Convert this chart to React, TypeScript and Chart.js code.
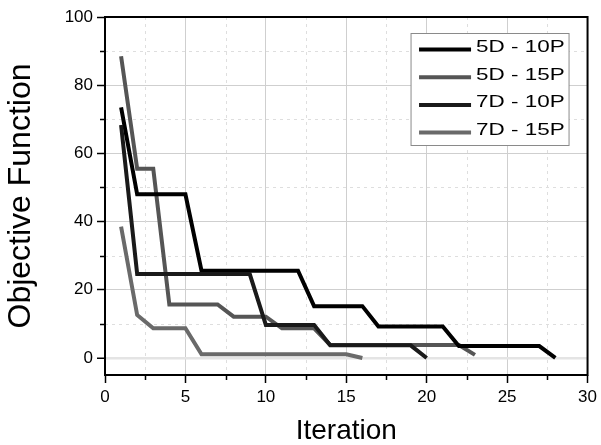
import React, { useEffect, useRef } from 'react';
import { Chart, registerables } from 'chart.js';

Chart.register(...registerables);

// ---- data ----
const seriesLabels = ['5D - 10P', '5D - 15P', '7D - 10P', '7D - 15P'];
const s5D10P = [73.5, 48, 48, 48, 48, 25.6, 25.6, 25.6, 25.6, 25.6, 25.6, 25.6, 15.2, 15.2, 15.2, 15.2, 9.2, 9.2, 9.2, 9.2, 9.2, 3.5, 3.5, 3.5, 3.5, 3.5, 3.5, 0];
const s5D15P = [88.5, 55.5, 55.5, 15.7, 15.7, 15.7, 15.7, 12.1, 12.1, 12.1, 8.7, 8.7, 8.7, 3.8, 3.8, 3.8, 3.8, 3.8, 3.8, 3.8, 3.8, 3.8, 0.9];
const s7D10P = [68.3, 24.6, 24.6, 24.6, 24.6, 24.6, 24.6, 24.6, 24.6, 9.7, 9.7, 9.7, 9.7, 3.7, 3.7, 3.7, 3.7, 3.7, 3.7, 0];
const s7D15P = [38.5, 12.6, 8.7, 8.7, 8.7, 1.1, 1.1, 1.1, 1.1, 1.1, 1.1, 1.1, 1.1, 1.1, 1.1, 0];
const seriesValues = [s5D10P, s5D15P, s7D10P, s7D15P];
const seriesColors = ['#000000', '#555555', '#1a1a1a', '#6a6a6a'];
const seriesOrder = [1, 3, 0, 4];

const xTicks = [0, 5, 10, 15, 20, 25, 30];
const yTicks = [0, 20, 40, 60, 80, 100];
const xMinorTicks = [2.5, 7.5, 12.5, 17.5, 22.5, 27.5];
const yMinorTicks = [10, 30, 50, 70, 90];
const xTitle = 'Iteration';
const yTitle = 'Objective Function';

const FONT = '"Liberation Sans", Arial, sans-serif';

const decorPlugin = {
  id: 'decor',
  beforeDatasetsDraw(chart: any) {
    const { ctx, chartArea: a, scales } = chart;
    const x = scales.x;
    const y = scales.y;
    ctx.save();
    ctx.strokeStyle = '#dedede';
    ctx.lineWidth = 1;
    ctx.setLineDash([3, 4]);
    ctx.beginPath();
    for (const v of xMinorTicks) {
      const px = Math.round(x.getPixelForValue(v)) + 0.5;
      ctx.moveTo(px, a.top);
      ctx.lineTo(px, a.bottom);
    }
    for (const v of yMinorTicks) {
      const py = Math.round(y.getPixelForValue(v)) + 0.5;
      ctx.moveTo(a.left, py);
      ctx.lineTo(a.right, py);
    }
    ctx.stroke();
    ctx.restore();
  },
  afterDatasetsDraw(chart: any) {
    const { ctx, chartArea: a, scales } = chart;
    const x = scales.x;
    const y = scales.y;
    ctx.save();
    // minor ticks
    ctx.strokeStyle = '#000';
    ctx.lineWidth = 1.5;
    ctx.beginPath();
    for (const v of xMinorTicks) {
      const px = Math.round(x.getPixelForValue(v)) + 0.5;
      ctx.moveTo(px, a.bottom);
      ctx.lineTo(px, a.bottom + 5);
    }
    for (const v of yMinorTicks) {
      const py = Math.round(y.getPixelForValue(v)) + 0.5;
      ctx.moveTo(a.left - 5, py);
      ctx.lineTo(a.left, py);
    }
    ctx.stroke();
    // frame
    ctx.lineWidth = 2;
    ctx.strokeRect(a.left, a.top, a.right - a.left, a.bottom - a.top);

    // legend
    const bx = a.right - 176.5;
    const by = a.top + 16.5;
    const bw = 158;
    const bh = 112;
    ctx.fillStyle = '#fff';
    ctx.fillRect(bx, by, bw, bh);
    ctx.strokeStyle = '#8a8a8a';
    ctx.lineWidth = 1;
    ctx.strokeRect(bx, by, bw, bh);
    const ds = chart.data.datasets;
    ds.forEach((d: any, i: number) => {
      const ly = by + 16 + i * 27.7;
      ctx.strokeStyle = d.borderColor;
      ctx.lineWidth = 4;
      ctx.beginPath();
      ctx.moveTo(bx + 8, ly);
      ctx.lineTo(bx + 60, ly);
      ctx.stroke();
      ctx.save();
      ctx.fillStyle = '#000';
      ctx.font = '17px ' + FONT;
      ctx.textBaseline = 'alphabetic';
      ctx.translate(bx + 65, ly + 2.5);
      ctx.scale(1.32, 1);
      ctx.fillText(d.label, 0, 0);
      ctx.restore();
    });
    ctx.restore();
  },
};

export default function App() {
  const canvasRef = useRef<HTMLCanvasElement | null>(null);

  useEffect(() => {
    if (!canvasRef.current) return;
    const datasets = seriesLabels.map((label, i) => ({
      label,
      data: seriesValues[i].map((v, j) => ({ x: j + 1, y: v })),
      borderColor: seriesColors[i],
      backgroundColor: seriesColors[i],
      borderWidth: 4,
      pointRadius: 0,
      tension: 0,
      fill: false,
      order: seriesOrder[i],
      borderJoinStyle: 'miter' as const,
    }));
    const chart = new Chart(canvasRef.current, {
      type: 'line',
      data: { datasets },
      options: {
        animation: false,
        responsive: false,
        layout: { padding: { top: 17, right: 11, left: 0, bottom: 0 } },
        plugins: { legend: { display: false }, tooltip: { enabled: false } },
        scales: {
          x: {
            type: 'linear',
            min: 0,
            max: 30,
            afterBuildTicks: (s: any) => {
              s.ticks = xTicks.map((v) => ({ value: v }));
            },
            afterFit: (s: any) => {
              s.height = 70;
            },
            ticks: {
              font: { size: 17, family: FONT },
              color: '#000',
              padding: 4,
              maxRotation: 0,
              autoSkip: false,
            },
            grid: {
              color: '#cfcfcf',
              lineWidth: 1,
              tickColor: '#000',
              tickWidth: 1.5,
              tickLength: 8,
            },
            border: { display: false },
            title: {
              display: true,
              text: xTitle,
              color: '#000',
              font: { size: 28, family: FONT, lineHeight: 1 },
              padding: { top: 0, bottom: 0 },
            },
          },
          y: {
            type: 'linear',
            min: -5,
            max: 100,
            afterBuildTicks: (s: any) => {
              s.ticks = yTicks.map((v) => ({ value: v }));
            },
            afterFit: (s: any) => {
              s.width = 105;
            },
            ticks: {
              font: { size: 17, family: FONT },
              color: '#000',
              padding: 4,
              autoSkip: false,
            },
            grid: {
              color: (c: any) => (c.tick && c.tick.value === 0 ? '#e4e4e4' : '#cfcfcf'),
              lineWidth: (c: any) => (c.tick && c.tick.value === 0 ? 2.5 : 1),
              tickColor: '#000',
              tickWidth: 1.5,
              tickLength: 8,
            },
            border: { display: false },
            title: {
              display: true,
              text: yTitle,
              color: '#000',
              font: { size: 32, family: FONT, lineHeight: 1 },
              padding: { top: 5.5, bottom: 0 },
            },
          },
        },
      },
      plugins: [decorPlugin],
    } as any);
    return () => chart.destroy();
  }, []);

  return (
    <div style={{ position: 'absolute', left: 0, top: 0, width: 601, height: 445, background: '#fff' }}>
      <canvas ref={canvasRef} width={601} height={445} style={{ display: 'block' }} />
    </div>
  );
}
